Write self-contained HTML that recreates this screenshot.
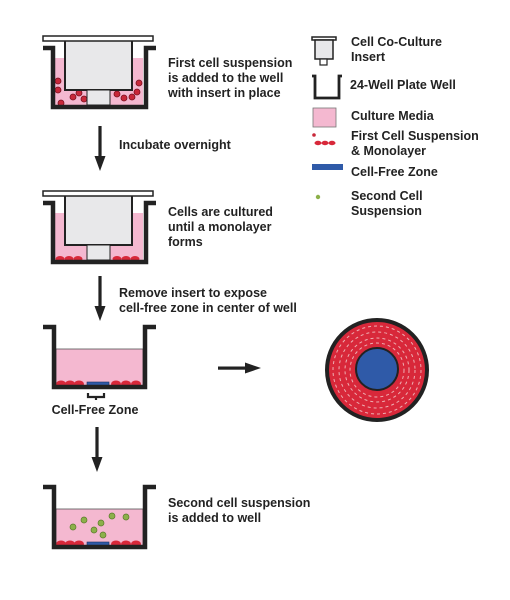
<!DOCTYPE html>
<html><head><meta charset="utf-8"><style>
html,body{margin:0;padding:0;background:#fff;}
svg{display:block;}
text{font-family:"Liberation Sans",sans-serif;font-weight:bold;font-size:12.5px;fill:#222;}
</style></head><body>
<svg width="510" height="600" viewBox="0 0 510 600">
<defs>
<g id="arrowdown"><rect x="-1.6" y="0" width="3.2" height="34" fill="#222"/><polygon points="-5.5,30 5.5,30 0,45" fill="#222"/></g>
</defs>

<!-- Step 1 well -->
<g>
  <rect x="55" y="58" width="88" height="48" fill="#f4b8d0"/>
  <g fill="#c8283a" stroke="#7a1020" stroke-width="0.8">
    <circle cx="58" cy="81" r="3"/><circle cx="58" cy="90" r="3"/><circle cx="61" cy="103" r="3"/>
    <circle cx="73" cy="97" r="3"/><circle cx="79" cy="93" r="3"/><circle cx="84" cy="99" r="3"/>
    <circle cx="117" cy="94" r="3"/><circle cx="124" cy="98" r="3"/><circle cx="132" cy="97" r="3"/><circle cx="137" cy="92" r="3"/><circle cx="139" cy="83" r="3"/>
  </g>
  <rect x="65" y="40" width="67" height="50" fill="#e8e8ea" stroke="#222" stroke-width="2"/>
  <rect x="87" y="90" width="23" height="15" fill="#e8e8ea" stroke="#222" stroke-width="1"/>
  <rect x="43" y="36" width="110" height="5" fill="#fff" stroke="#222" stroke-width="1.5"/>
  <path d="M43,48 H53 V107 H146 V48 H156" fill="none" stroke="#222" stroke-width="4.5"/>
</g>
<text x="168" y="67">First cell suspension</text>
<text x="168" y="82">is added to the well</text>
<text x="168" y="97">with insert in place</text>

<use href="#arrowdown" x="100" y="126"/>
<text x="119" y="149">Incubate overnight</text>

<!-- Step 2 well -->
<g>
  <rect x="55" y="213" width="88" height="48" fill="#f4b8d0"/>
  <g fill="#d8283a">
    <ellipse cx="60" cy="259" rx="4.5" ry="3"/><ellipse cx="69" cy="259" rx="4.5" ry="3"/><ellipse cx="78" cy="259" rx="4.5" ry="3"/>
    <ellipse cx="117" cy="259" rx="4.5" ry="3"/><ellipse cx="126" cy="259" rx="4.5" ry="3"/><ellipse cx="135" cy="259" rx="4.5" ry="3"/>
  </g>
  <rect x="65" y="195" width="67" height="50" fill="#e8e8ea" stroke="#222" stroke-width="2"/>
  <rect x="87" y="245" width="23" height="15" fill="#e8e8ea" stroke="#222" stroke-width="1"/>
  <rect x="43" y="191" width="110" height="5" fill="#fff" stroke="#222" stroke-width="1.5"/>
  <path d="M43,203 H53 V262 H146 V203 H156" fill="none" stroke="#222" stroke-width="4.5"/>
</g>
<text x="168" y="216">Cells are cultured</text>
<text x="168" y="231">until a monolayer</text>
<text x="168" y="246">forms</text>

<use href="#arrowdown" x="100" y="276"/>
<text x="119" y="297">Remove insert to expose</text>
<text x="119" y="312">cell-free zone in center of well</text>

<!-- Step 3 well -->
<g>
  <rect x="56" y="349" width="87" height="37" fill="#f4b8d0" stroke="#555" stroke-width="0.8"/>
  <g fill="#d8283a">
    <ellipse cx="61" cy="384" rx="5" ry="3.5"/><ellipse cx="70" cy="384" rx="5" ry="3.5"/><ellipse cx="79" cy="384" rx="5" ry="3.5"/>
    <ellipse cx="116" cy="384" rx="5" ry="3.5"/><ellipse cx="126" cy="384" rx="5" ry="3.5"/><ellipse cx="136" cy="384" rx="5" ry="3.5"/>
  </g>
  <rect x="87" y="382" width="22" height="6" fill="#2f5aa8" stroke="#1a2f60" stroke-width="0.6"/>
  <path d="M43,327 H54 V387 H145 V327 H156" fill="none" stroke="#222" stroke-width="4.5"/>
  <path d="M88,393 v4 h8 v3 m0,-3 h8 v-4" fill="none" stroke="#222" stroke-width="2.2"/>
</g>
<text x="95" y="414" text-anchor="middle">Cell-Free Zone</text>

<!-- right arrow -->
<g>
  <rect x="218" y="366.5" width="30" height="3.2" fill="#222"/>
  <polygon points="245,362.5 245,373.5 261,368" fill="#222"/>
</g>

<!-- top view circle -->
<g>
  <circle cx="377" cy="370" r="50" fill="#d8283a" stroke="#222" stroke-width="4"/>
  <g fill="none" stroke="#f3d0d0" stroke-width="1" stroke-dasharray="3 3" opacity="0.8">
    <circle cx="377" cy="370" r="44"/><circle cx="377" cy="370" r="38"/><circle cx="377" cy="370" r="32"/><circle cx="377" cy="370" r="27"/>
  </g>
  <circle cx="377" cy="369" r="21" fill="#2f5aa8" stroke="#222" stroke-width="2"/>
</g>

<use href="#arrowdown" x="97" y="427"/>

<!-- Step 4 well -->
<g>
  <rect x="56" y="509" width="87" height="37" fill="#f4b8d0" stroke="#555" stroke-width="0.8"/>
  <g fill="#d8283a">
    <ellipse cx="61" cy="544" rx="5" ry="3.5"/><ellipse cx="70" cy="544" rx="5" ry="3.5"/><ellipse cx="79" cy="544" rx="5" ry="3.5"/>
    <ellipse cx="116" cy="544" rx="5" ry="3.5"/><ellipse cx="126" cy="544" rx="5" ry="3.5"/><ellipse cx="136" cy="544" rx="5" ry="3.5"/>
  </g>
  <rect x="87" y="542" width="22" height="6" fill="#2f5aa8" stroke="#1a2f60" stroke-width="0.6"/>
  <g fill="#8cb04a" stroke="#5a7a2a" stroke-width="0.7">
    <circle cx="73" cy="527" r="3"/><circle cx="84" cy="520" r="3"/><circle cx="94" cy="530" r="3"/><circle cx="101" cy="523" r="3"/>
    <circle cx="103" cy="535" r="3"/><circle cx="112" cy="516" r="3"/><circle cx="126" cy="517" r="3"/>
  </g>
  <path d="M43,487 H54 V547 H145 V487 H156" fill="none" stroke="#222" stroke-width="4.5"/>
</g>
<text x="168" y="507">Second cell suspension</text>
<text x="168" y="522">is added to well</text>

<!-- Legend -->
<g>
  <g>
    <rect x="312" y="37" width="24" height="3" fill="#fff" stroke="#222" stroke-width="1.5"/>
    <rect x="315" y="40" width="18" height="19" fill="#e8e8ea" stroke="#222" stroke-width="1.5"/>
    <rect x="320" y="59" width="7" height="6" fill="#fff" stroke="#222" stroke-width="1.2"/>
    <text x="351" y="46">Cell Co-Culture</text>
    <text x="351" y="61">Insert</text>
  </g>
  <g>
    <path d="M312,76 H315 V98 H339 V76 H342" fill="none" stroke="#222" stroke-width="2.8"/>
    <text x="350" y="89">24-Well Plate Well</text>
  </g>
  <g>
    <rect x="313" y="108" width="23" height="19" fill="#f4b8d0" stroke="#777" stroke-width="0.8"/>
    <text x="351" y="120">Culture Media</text>
  </g>
  <g>
    <circle cx="314" cy="135" r="1.8" fill="#c8283a"/>
    <ellipse cx="318" cy="143" rx="3.5" ry="2.2" fill="#d8283a"/><ellipse cx="325" cy="143" rx="3.5" ry="2.2" fill="#d8283a"/><ellipse cx="332" cy="143" rx="3.5" ry="2.2" fill="#d8283a"/>
    <text x="351" y="140">First Cell Suspension</text>
    <text x="351" y="155">&amp; Monolayer</text>
  </g>
  <g>
    <rect x="312" y="164" width="31" height="6" fill="#2f5aa8"/>
    <text x="351" y="176">Cell-Free Zone</text>
  </g>
  <g>
    <circle cx="318" cy="197" r="2.2" fill="#8cb04a"/>
    <text x="351" y="200">Second Cell</text>
    <text x="351" y="215">Suspension</text>
  </g>
</g>
</svg>
</body></html>
